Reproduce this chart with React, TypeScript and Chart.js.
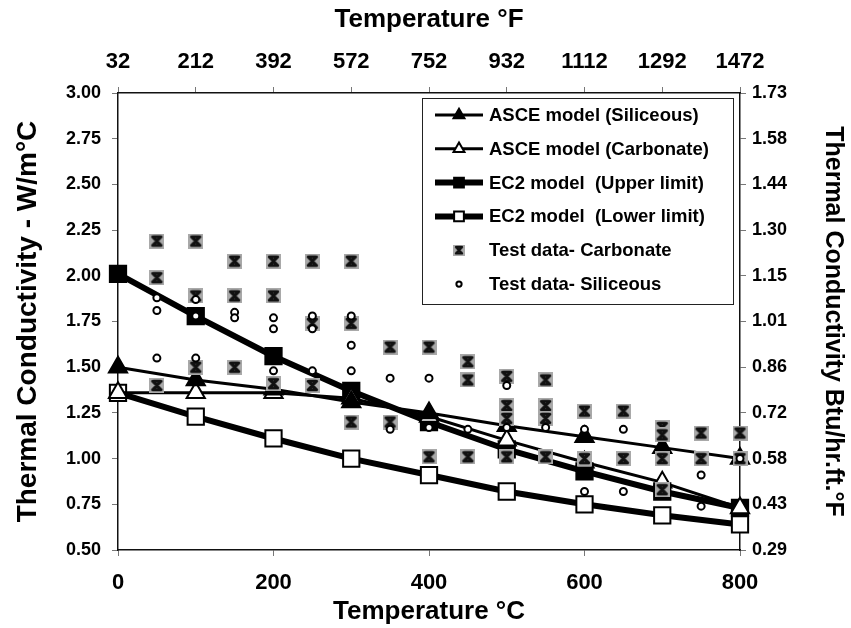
import React, { useEffect, useRef } from 'react';
import { Chart, registerables } from 'chart.js';

Chart.register(...registerables);

// ---------- data ----------
const tempC = [0, 100, 200, 300, 400, 500, 600, 700, 800];
const tempFLabels = ['32', '212', '392', '572', '752', '932', '1112', '1292', '1472'];
const btuLabels = ['0.29', '0.43', '0.58', '0.72', '0.86', '1.01', '1.15', '1.30', '1.44', '1.58', '1.73'];

const asceSiliceous = [1.5, 1.43, 1.38, 1.31, 1.25, 1.18, 1.12, 1.06, 1.0];
const asceCarbonate = [1.36, 1.36, 1.36, 1.33, 1.23, 1.1, 0.98, 0.87, 0.73];
const ec2Upper = [2.01, 1.78, 1.56, 1.37, 1.2, 1.05, 0.93, 0.82, 0.73];
const ec2Lower = [1.36, 1.23, 1.11, 1.0, 0.91, 0.82, 0.75, 0.69, 0.64];

const carbonateT = [
  50, 50, 50, 100, 100, 100, 150, 150, 150, 200, 200, 200, 250, 250, 250, 300, 300, 300,
  350, 350, 400, 400, 450, 450, 450, 500, 500, 500, 500, 550, 550, 550, 550,
  600, 600, 650, 650, 700, 700, 700, 700, 750, 750, 800, 800,
];
const carbonateK = [
  2.19, 1.99, 1.4, 2.19, 1.89, 1.5, 2.08, 1.89, 1.5, 2.08, 1.89, 1.41, 2.08, 1.74, 1.4, 2.08, 1.74, 1.2,
  1.61, 1.2, 1.61, 1.01, 1.53, 1.43, 1.01, 1.45, 1.29, 1.22, 1.01, 1.43, 1.29, 1.22, 1.01,
  1.26, 1.0, 1.26, 1.0, 1.17, 1.13, 1.0, 0.83, 1.14, 1.0, 1.14, 1.0,
];

const siliceousT = [
  50, 50, 50, 100, 100, 100, 150, 150, 200, 200, 200, 250, 250, 250, 300, 300, 300,
  350, 350, 400, 400, 450, 500, 500, 550, 600, 600, 650, 650, 750, 750, 800,
];
const siliceousK = [
  1.88, 1.81, 1.55, 1.87, 1.78, 1.55, 1.8, 1.77, 1.77, 1.71, 1.48, 1.78, 1.71, 1.48, 1.78, 1.62, 1.48,
  1.44, 1.16, 1.44, 1.17, 1.16, 1.4, 1.17, 1.17, 1.16, 0.82, 1.16, 0.82, 0.91, 0.74, 1.0,
];

const seriesLabels = [
  'ASCE model (Siliceous)',
  'ASCE model (Carbonate)',
  'EC2 model  (Upper limit)',
  'EC2 model  (Lower limit)',
  'Test data- Carbonate',
  'Test data- Siliceous',
];

const FONT = "'Liberation Sans', Arial, Helvetica, sans-serif";

function makeCarbMarker(size: number) {
  const c = document.createElement('canvas');
  c.width = size;
  c.height = size;
  const g = c.getContext('2d')!;
  g.fillStyle = '#a9a9a9';
  g.fillRect(0, 0, size, size);
  g.strokeStyle = '#111';
  g.lineWidth = 3;
  g.lineCap = 'round';
  const m = size * 0.22;
  g.beginPath();
  g.moveTo(m, m);
  g.lineTo(size - m, size - m);
  g.moveTo(size - m, m);
  g.lineTo(m, size - m);
  g.moveTo(m + 1, m);
  g.lineTo(size - m - 1, m);
  g.moveTo(m + 1, size - m);
  g.lineTo(size - m - 1, size - m);
  g.stroke();
  return c;
}

function drawMarker(ctx: CanvasRenderingContext2D, ds: any, x: number, y: number, scale: number) {
  const style = ds.pointStyle;
  if (style instanceof HTMLCanvasElement) {
    const w = style.width * scale;
    ctx.drawImage(style, x - w / 2, y - w / 2, w, w);
    return;
  }
  const r = ds.pointRadius * scale;
  ctx.save();
  ctx.fillStyle = ds.pointBackgroundColor;
  ctx.strokeStyle = ds.pointBorderColor;
  ctx.lineWidth = ds.pointBorderWidth;
  ctx.beginPath();
  if (style === 'triangle') {
    let rad = 0;
    ctx.moveTo(x + Math.sin(rad) * r, y - Math.cos(rad) * r);
    rad += (2 * Math.PI) / 3;
    ctx.lineTo(x + Math.sin(rad) * r, y - Math.cos(rad) * r);
    rad += (2 * Math.PI) / 3;
    ctx.lineTo(x + Math.sin(rad) * r, y - Math.cos(rad) * r);
    ctx.closePath();
  } else if (style === 'rect') {
    const s = r * Math.SQRT1_2;
    ctx.rect(x - s, y - s, 2 * s, 2 * s);
  } else {
    ctx.arc(x, y, r, 0, Math.PI * 2);
  }
  ctx.fill();
  if (ds.pointBorderWidth > 0) ctx.stroke();
  ctx.restore();
}

const boxLegend = {
  id: 'boxLegend',
  afterDraw(chart: any) {
    const { ctx, chartArea } = chart;
    const bx = chartArea.right - 318;
    const by = chartArea.top + 5;
    const bw = 311;
    const bh = 206;
    ctx.save();
    ctx.fillStyle = '#fff';
    ctx.fillRect(bx, by, bw, bh);
    ctx.strokeStyle = '#222';
    ctx.lineWidth = 1;
    ctx.strokeRect(bx + 0.5, by + 0.5, bw, bh);
    chart.data.datasets.forEach((ds: any, i: number) => {
      const y = by + 17 + i * 33.8;
      if (ds.showLine) {
        ctx.strokeStyle = '#000';
        ctx.lineWidth = ds.borderWidth;
        ctx.beginPath();
        ctx.moveTo(bx + 13, y);
        ctx.lineTo(bx + 61, y);
        ctx.stroke();
      }
      drawMarker(ctx, ds, bx + 37, y, ds.showLine ? 0.6 : 0.75);
      ctx.fillStyle = '#000';
      ctx.font = `bold 18.5px ${FONT}`;
      ctx.textBaseline = 'middle';
      ctx.textAlign = 'left';
      ctx.fillText(ds.label, bx + 67, y + 1);
    });
    ctx.restore();
  },
};

const toXY = (xs: number[], ys: number[]) => xs.map((x, i) => ({ x, y: ys[i] }));

export default function App() {
  const ref = useRef<HTMLCanvasElement | null>(null);

  useEffect(() => {
    if (!ref.current) return;
    const carbMarker = makeCarbMarker(15);
    const tickFont = { family: FONT, weight: 'bold' as const, size: 18 };
    const xTickFont = { family: FONT, weight: 'bold' as const, size: 22 };
    const gridOpts = {
      drawOnChartArea: false,
      drawTicks: true,
      tickLength: 6,
      color: '#777',
    };
    const border = { display: true, color: '#111', width: 1.5 };

    const modelLine = (label: string, ys: number[], style: string, filled: boolean, w: number, r: number) => ({
      label,
      data: toXY(tempC, ys),
      showLine: true,
      borderColor: '#000',
      backgroundColor: '#000',
      borderWidth: w,
      pointStyle: style,
      pointRadius: r,
      pointBackgroundColor: filled ? '#000' : '#fff',
      pointBorderColor: '#000',
      pointBorderWidth: 2,
      order: 2,
      clip: false,
      xAxisID: 'x',
      yAxisID: 'y',
    });

    const chart = new Chart(ref.current, {
      type: 'scatter',
      data: {
        datasets: [
          modelLine(seriesLabels[0], asceSiliceous, 'triangle', true, 3, 10.5),
          modelLine(seriesLabels[1], asceCarbonate, 'triangle', false, 3, 10.5),
          modelLine(seriesLabels[2], ec2Upper, 'rect', true, 6, 11.5),
          modelLine(seriesLabels[3], ec2Lower, 'rect', false, 6, 11.5),
          {
            label: seriesLabels[4],
            data: toXY(carbonateT, carbonateK),
            showLine: false,
            pointStyle: carbMarker as any,
            pointRadius: 7,
            order: 1,
            clip: false,
            xAxisID: 'x',
            yAxisID: 'y',
          } as any,
          {
            label: seriesLabels[5],
            data: toXY(siliceousT, siliceousK),
            showLine: false,
            pointStyle: 'circle',
            pointRadius: 3.5,
            pointBackgroundColor: '#fff',
            pointBorderColor: '#000',
            pointBorderWidth: 2,
            order: 0,
            clip: false,
            xAxisID: 'x',
            yAxisID: 'y',
          },
        ],
      },
      options: {
        animation: false,
        responsive: true,
        maintainAspectRatio: false,
        layout: { padding: 0 },
        plugins: {
          legend: { display: false },
          tooltip: { enabled: false },
        },
        scales: {
          x: {
            type: 'linear',
            position: 'bottom',
            min: 0,
            max: 800,
            ticks: { stepSize: 200, font: xTickFont, color: '#000', padding: 14 },
            grid: gridOpts,
            border,
            title: {
              display: true,
              text: 'Temperature °C',
              color: '#000',
              font: { family: FONT, weight: 'bold', size: 26 },
              padding: { top: 0, bottom: 1 },
            },
            afterFit: (s: any) => {
              s.height = 78;
            },
          },
          x2: {
            type: 'linear',
            position: 'top',
            min: 0,
            max: 800,
            ticks: {
              stepSize: 100,
              font: xTickFont,
              color: '#000',
              padding: 12,
              callback: (_v: any, i: number) => tempFLabels[i],
            },
            grid: gridOpts,
            border,
            title: {
              display: true,
              text: 'Temperature °F',
              color: '#000',
              font: { family: FONT, weight: 'bold', size: 26 },
              padding: { top: 4, bottom: 0 },
            },
            afterFit: (s: any) => {
              s.height = 93;
            },
          },
          y: {
            type: 'linear',
            position: 'left',
            min: 0.5,
            max: 3.0,
            ticks: {
              stepSize: 0.25,
              font: tickFont,
              color: '#000',
              padding: 11,
              callback: (v: any) => Number(v).toFixed(2),
            },
            grid: gridOpts,
            border,
            title: {
              display: true,
              text: 'Thermal Conductivity - W/m°C',
              color: '#000',
              font: { family: FONT, weight: 'bold', size: 28 },
              padding: { top: 11, bottom: 0 },
            },
            afterFit: (s: any) => {
              s.width = 118;
            },
          },
          y2: {
            type: 'linear',
            position: 'right',
            min: 0.5,
            max: 3.0,
            ticks: {
              stepSize: 0.25,
              font: tickFont,
              color: '#000',
              padding: 6,
              callback: (_v: any, i: number) => btuLabels[i],
            },
            grid: gridOpts,
            border,
            title: {
              display: true,
              text: 'Thermal Conductivity Btu/hr.ft.°F',
              color: '#000',
              font: { family: FONT, weight: 'bold', size: 25 },
              padding: { top: 3, bottom: 0 },
            },
            afterFit: (s: any) => {
              s.width = 111;
            },
          },
        },
      },
      plugins: [boxLegend],
    } as any);

    return () => chart.destroy();
  }, []);

  return (
    <div
      style={{
        position: 'absolute',
        left: 0,
        top: 0,
        width: 851,
        height: 628,
        background: '#fff',
      }}
    >
      <canvas ref={ref} />
    </div>
  );
}
